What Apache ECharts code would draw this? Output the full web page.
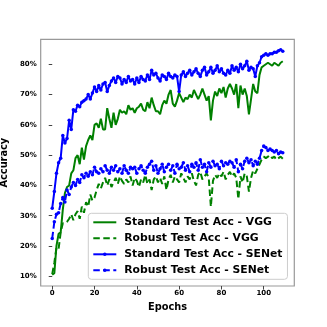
<!DOCTYPE html>
<html><head><meta charset="utf-8">
<script src="https://cdn.jsdelivr.net/npm/echarts@6/dist/echarts.min.js"></script>
<style>html,body{margin:0;padding:0;background:#fff}#c{width:327px;height:327px}</style>
</head><body><div id="c"></div>
<script>
var epochs = [];
for (var i = 0; i < 110; i++) epochs.push(i);
var xTicks = [0, 20, 40, 60, 80, 100];
var yTicks = [10, 20, 30, 40, 50, 60, 70, 80];
var seriesNames = ['Standard Test Acc - VGG', 'Robust Test Acc - VGG', 'Standard Test Acc - SENet', 'Robust Test Acc - SENet'];

var vggStd = [10.5,11,20,24,24.5,32,37.5,39.5,40,44,45,49,50,47,52.5,48.5,53,55,56.5,55,
60,60.5,59,62,58.5,58.5,65.5,62,59,64,60,62,65,64,64.5,63.5,66.5,65,65.5,64,
65.5,66,67,65,64.5,67.5,65.5,69,66.5,64.5,64.5,63.5,66.5,68,67,70,71.5,67,66,68,
70.5,69,67.5,69,68.5,70,69,71.5,70,68.5,70,72,70,68,69.5,61.5,68,71,69.5,72,
70.5,72.5,69,72,73.5,72,70,73.5,65.5,73,70,72,69.5,63.5,68.5,73.5,71,70.5,76.5,79,
79.5,80,80.5,80,79.5,80.5,80,79.5,80.5,81];

var vggRob = [10.7,14.5,19.5,19,24.5,27.5,27.5,28,29,30.5,28.5,30.5,31.5,29,33,31,34.5,33,37,35,
36,38.5,40.5,39,41,42.5,40,42,39.5,41,42.5,40.5,43,41.5,40.5,42,41,43,40,42.5,
41.5,39.5,42,41,43.5,40.5,42,38.5,42,43,41,42.5,40.5,43,38.5,42,43.5,41,43,42,
41,44,42.5,41,43,42,44,41.5,40,43.5,44.5,42,43,44,42.5,33,41.5,43.5,42.5,44,
43,44.5,42,43.5,44.5,43,44,42.5,35.5,43,41,44,43,38,42.5,45,44,45.5,47,48.5,
49.5,49,49.5,50,49,49.5,48.5,49,49.5,48.8];

var seStd = [32.5,38,44,47.5,49,56.5,54,55.5,61.5,58.5,65,64.5,66.5,66,67.5,68,68.5,70,68.5,70.5,
72.5,71,73,71.5,73.5,74,71,73,74.5,75.5,74,76,75.5,73.5,75,74,76,74.5,75,73.5,
75.5,74,76,75,74.5,76.5,75,78,76.5,77,75.5,74.5,76.5,76,75,77,76,75.5,76.5,76,
71,76.5,77.5,76,77,78,76.5,77.5,78.5,77,76,78,79,76.5,77.5,79,77,78,79.5,77.5,
78.5,77,76.5,78,77,79.5,78,79,77.5,80,78.5,79.5,81,78,79,78.5,76,79.5,80.5,82.5,
83,83.5,83,83.5,83.5,84,84,84.5,84.8,84.3];

var seRob = [22.5,28,30.5,31,34,36,34.5,38.5,37,39.5,41,40,42,41,43.5,42.5,44,43,44.5,43.5,
46,44.5,44,45.5,44.5,46.5,45,44,46,45,46.5,44.5,45.5,44,46.5,45,44,46,45.5,46,
44,45.5,46.5,45,44,46,47,48,45,46.5,44,45.5,47,44.5,46,47,45,46.5,44,47,
45.5,46,47.5,45,46.5,44.5,47,46,47.5,45,48.5,46,47,44.5,47.5,46,48,46.5,47,45.5,
48,46.5,47.5,47,48,47.5,46,48.5,44.5,47,45.5,48,49,47.5,48.5,46.5,48,47,49,51.5,
53,52.5,51.5,52,51.5,51,51.5,50.5,51,50.8];

function pairs(arr){ return arr.map(function(v,i){ return [epochs[i], v]; }); }

var F = 'DejaVu Sans';
var chart = echarts.init(document.getElementById('c'), null, {renderer:'canvas'});
chart.setOption({
  animation: false,
  grid: {left: 40.7, right: 32.7, top: 39.3, bottom: 41, show: true, borderColor: '#999999', borderWidth: 1.2, backgroundColor: 'transparent', containLabel: false, outerBoundsMode: 'none'},
  xAxis: {
    type: 'value', min: -5.45, max: 114.45,
    name: 'Epochs', nameLocation: 'middle', nameGap: 16,
    nameTextStyle: {fontFamily: F, fontWeight: 'bold', fontSize: 9.8, color: '#000'},
    axisLine: {show: false},
    splitLine: {show: false},
    axisTick: {show: true, length: 3.5, lineStyle: {color: '#444', width: 1}, customValues: xTicks},
    axisLabel: {fontFamily: F, fontWeight: 'bold', fontSize: 7, color: '#000', margin: 4, customValues: xTicks}
  },
  yAxis: {
    type: 'value', min: 6.8, max: 88.25,
    name: 'Accuracy', nameLocation: 'middle', nameGap: 27,
    nameTextStyle: {fontFamily: F, fontWeight: 'bold', fontSize: 9.8, color: '#000'},
    axisLine: {show: false},
    splitLine: {show: false},
    axisTick: {show: true, length: 3.5, lineStyle: {color: '#444', width: 1}, customValues: yTicks},
    axisLabel: {fontFamily: F, fontWeight: 'bold', fontSize: 7, color: '#000', margin: 4, customValues: yTicks,
      formatter: function(v){ return Math.round(v) + '%'; }}
  },
  legend: {
    orient: 'vertical', left: 88.3, top: 213.3,
    padding: [1, 5, 1, 4],
    itemWidth: 23, itemHeight: 4.5, itemGap: 0,
    backgroundColor: 'rgba(255,255,255,0.85)',
    borderColor: '#cccccc', borderWidth: 1, borderRadius: 3,
    textStyle: {fontFamily: F, fontWeight: 'bold', fontSize: 10.8, color: '#000', lineHeight: 16, padding: [0,0,0,3]},
    data: [
      {name: seriesNames[0], itemStyle: {opacity: 0}},
      {name: seriesNames[1], itemStyle: {opacity: 0}},
      {name: seriesNames[2]},
      {name: seriesNames[3]}
    ]
  },
  series: [
    {name: seriesNames[0], type: 'line', data: pairs(vggStd), symbol: 'none', lineStyle: {color: '#008000', width: 2}, itemStyle: {color: '#008000'}, z: 2},
    {name: seriesNames[1], type: 'line', data: pairs(vggRob), symbol: 'none', lineStyle: {color: '#008000', width: 2, type: [6.5, 3.5]}, itemStyle: {color: '#008000'}, z: 2},
    {name: seriesNames[2], type: 'line', data: pairs(seStd), symbol: 'circle', symbolSize: 3.5, showSymbol: true, lineStyle: {color: '#0000ff', width: 2}, itemStyle: {color: '#0000ff'}, z: 3},
    {name: seriesNames[3], type: 'line', data: pairs(seRob), symbol: 'circle', symbolSize: 3.5, showSymbol: true, lineStyle: {color: '#0000ff', width: 2, type: [6.5, 3.5]}, itemStyle: {color: '#0000ff'}, z: 3}
  ]
});
</script></body></html>
